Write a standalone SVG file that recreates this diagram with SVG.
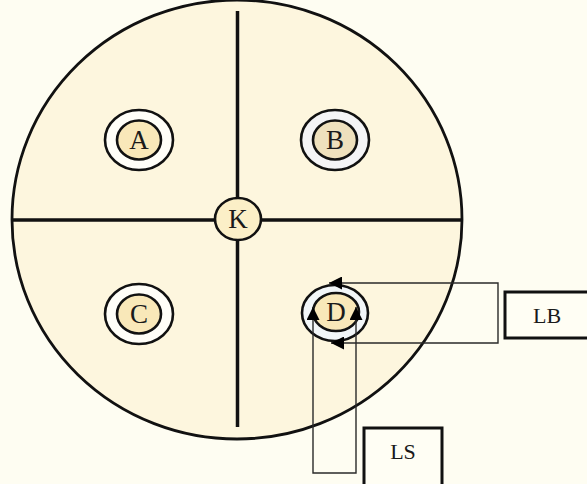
<svg xmlns="http://www.w3.org/2000/svg" width="587" height="484" viewBox="0 0 587 484">
<style>
.lbl{font-family:"Liberation Serif","Times New Roman",serif;font-size:27px;fill:#1a1a1a;text-anchor:middle}
.box{font-family:"Liberation Serif","Times New Roman",serif;font-size:22px;fill:#1a1a1a;text-anchor:middle}
.ring{fill:#fffef8;stroke:#111;stroke-width:2.6}
.core{fill:#f9e8b9;stroke:#111;stroke-width:2.6}
.conn{fill:none;stroke:#2a2a2a;stroke-width:1.4}
.frame{fill:#fffef4;stroke:#111;stroke-width:3}
</style>
<defs>
<marker id="ah" viewBox="0 0 10 10" refX="10" refY="5" markerUnits="userSpaceOnUse" markerWidth="17" markerHeight="13" orient="auto-start-reverse">
<path d="M0,0 L10,5 L0,10 z" fill="#000"/>
</marker>
</defs>
<rect width="587" height="484" fill="#fefdf2"/>
<g id="field">
<ellipse cx="237" cy="219.5" rx="225" ry="219.5" fill="#fdf6de" stroke="#111" stroke-width="2.8"/>
<line x1="12" y1="220" x2="462" y2="220" stroke="#111" stroke-width="3.5"/>
<line x1="237.5" y1="11" x2="237.5" y2="427" stroke="#111" stroke-width="3.5"/>
</g>
<g id="node-A">
<ellipse class="ring" cx="139" cy="140" rx="34" ry="30"/>
<ellipse class="core" cx="139" cy="140" rx="22" ry="19.5"/>
<text class="lbl" x="139" y="149">A</text>
</g>
<g id="node-B">
<ellipse class="ring" cx="335" cy="140" rx="34" ry="30" style="fill:#f4f4f6"/>
<ellipse class="core" cx="335" cy="140" rx="22" ry="19.5" style="fill:#eee0bd"/>
<text class="lbl" x="335" y="149">B</text>
</g>
<g id="node-C">
<ellipse class="ring" cx="139" cy="314" rx="34" ry="30"/>
<ellipse class="core" cx="139" cy="314" rx="22" ry="19.5"/>
<text class="lbl" x="139" y="323">C</text>
</g>
<g id="node-D">
<ellipse class="ring" cx="335" cy="313" rx="33" ry="28" style="fill:#f2f6f8"/>
<ellipse class="core" cx="336" cy="312" rx="23" ry="19"/>
<text class="lbl" x="336" y="321">D</text>
</g>
<g id="node-K">
<ellipse class="core" cx="238" cy="219" rx="23" ry="21" style="fill:#fbefc7"/>
<text class="lbl" x="238" y="228">K</text>
</g>
<g id="node-LB">
<rect class="frame" x="505" y="292" width="90" height="46"/>
<text class="box" x="547" y="323">LB</text>
</g>
<g id="node-LS">
<rect class="frame" x="364" y="428" width="78" height="70"/>
<text class="box" x="403" y="459">LS</text>
</g>
<g id="connectors">
<path class="conn" d="M329 283 H498 V343 H331" marker-start="url(#ah)" marker-end="url(#ah)"/>
<path class="conn" d="M313 307 V473 H356 V307" marker-start="url(#ah)" marker-end="url(#ah)"/>
</g>
</svg>
